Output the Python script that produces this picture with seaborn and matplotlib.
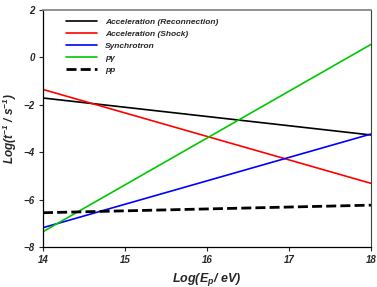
import numpy as np
import pandas as pd
import seaborn as sns
import matplotlib
matplotlib.use('Agg')
import matplotlib.pyplot as plt

# log energy range (end points of each straight line)
log_E = [14, 18]

# log timescale values at both ends
acc_reconnection = [-1.71, -3.27]
acc_shock = [-1.35, -5.31]
synchrotron = [-7.18, -3.23]
p_gamma = [-7.35, 0.55]
p_p = [-6.55, -6.23]

series_names = ['Acceleration (Reconnection)', 'Acceleration (Shock)',
                'Synchrotron', 'p\u03b3', 'pp']
series_vals = [acc_reconnection, acc_shock, synchrotron, p_gamma, p_p]
colors = ['black', '#ff0000', '#0000ff', '#00c800', 'black']

rows = []
for name, vals in zip(series_names, series_vals):
    for x, y in zip(log_E, vals):
        rows.append([name, x, y])
df = pd.DataFrame(rows, columns=['series', 'logE', 'logt'])

sns.set_style('ticks')
plt.rcParams['font.family'] = ['Liberation Sans', 'DejaVu Sans']
plt.rcParams['mathtext.fontset'] = 'custom'
plt.rcParams['mathtext.rm'] = 'Liberation Sans:bold:italic'
plt.rcParams['mathtext.it'] = 'Liberation Sans:bold:italic'

fig = plt.figure(figsize=(3.77, 2.87), dpi=100)
ax = fig.add_axes([0.114, 0.139, 0.87, 0.826])

sns.lineplot(data=df, x='logE', y='logt', hue='series', style='series',
             hue_order=series_names, style_order=series_names,
             palette=dict(zip(series_names, colors)),
             dashes={n: ((3.6, 1.5) if n == 'pp' else '') for n in series_names},
             ax=ax, legend=True)
for line, name in zip(ax.get_lines(), series_names):
    line.set_linewidth(2.0 if name == 'pp' else 1.2)

ax.set_xlim(14, 18)
ax.set_ylim(-8, 2)
ax.set_xticks([14, 15, 16, 17, 18])
ax.set_yticks([-8, -6, -4, -2, 0, 2])
ax.tick_params(direction='out', length=3, width=0.8, labelsize=7, pad=3)
for lab in ax.get_xticklabels() + ax.get_yticklabels():
    lab.set_fontweight('bold')
    lab.set_fontstyle('italic')

ax.set_xlabel('Log(E$_p$/ eV)', fontsize=9, fontweight='bold', style='italic')
ax.set_ylabel('Log(t$^{-1}$ / s$^{-1}$)', fontsize=8.5, fontweight='bold', style='italic',
              labelpad=3)

for side in ['left', 'bottom']:
    ax.spines[side].set_color('black')
    ax.spines[side].set_linewidth(0.9)
ax.spines['top'].set_color('#808080')
ax.spines['right'].set_color('#404040')
ax.spines['top'].set_linewidth(1.2)

leg = ax.legend(loc='upper left', frameon=False, fontsize=6,
                handlelength=3.7, handletextpad=1.0, labelspacing=0.5,
                borderaxespad=0.6, bbox_to_anchor=(0.045, 1.0))
for t in leg.get_texts():
    t.set_fontweight('bold')
    t.set_fontstyle('italic')
for h, name in zip(leg.get_lines(), series_names):
    h.set_linewidth(2.0 if name == 'pp' else 1.2)

fig.savefig('out.png', dpi=100)
